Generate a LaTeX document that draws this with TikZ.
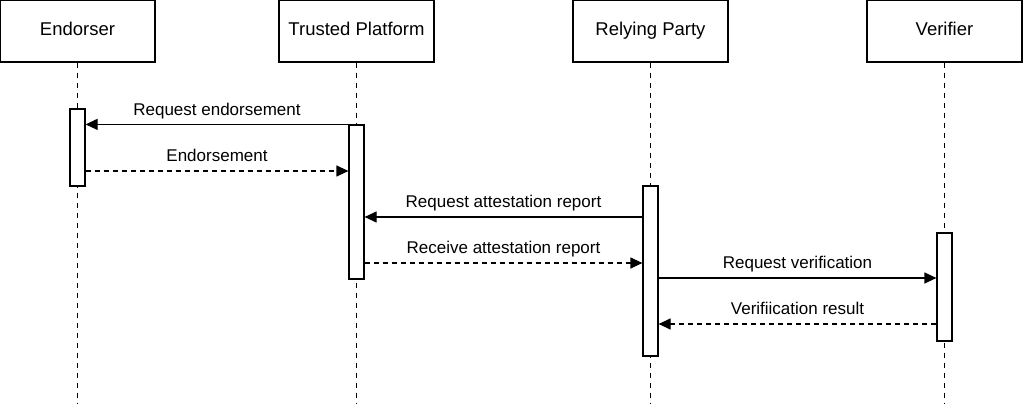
\documentclass[tikz,border=0pt]{standalone}
\usepackage{fontspec}
\setmainfont{Liberation Sans}
\usetikzlibrary{arrows.meta}
\begin{document}
\begin{tikzpicture}[x=1pt,y=-1pt,
  actor/.style={draw,line width=1.2pt,minimum width=155pt,minimum height=62pt,inner sep=0pt,text height=13.5pt,text depth=3.5pt,font=\fontsize{18.5}{20}\selectfont},
  act/.style={draw,line width=1.2pt,fill=white,minimum width=15pt,inner sep=0pt},
  life/.style={line width=1.2pt,dash pattern=on 5pt off 5pt},
  msg/.style={line width=1.2pt,-{Triangle[length=12pt,width=11pt]}},
  ret/.style={msg,dash pattern=on 5pt off 4pt},
  lbl/.style={fill=white,inner sep=1pt,text height=12.5pt,text depth=3.5pt,font=\fontsize{17}{19}\selectfont}]
\useasboundingbox (0,0) rectangle (1023,404);
% actors
\node[actor] (e) at (77.5,31) {Endorser};
\node[actor] (t) at (356.5,31) {Trusted Platform};
\node[actor] (r) at (650.5,31) {Relying Party};
\node[actor] (v) at (944.5,31) {Verifier};
% lifeline ends
\coordinate (ee) at (77.5,404);
\coordinate (te) at (356.5,404);
\coordinate (re) at (650.5,404);
\coordinate (ve) at (944.5,404);
\draw[life] (e.south) -- (ee);
\draw[life] (t.south) -- (te);
\draw[life] (r.south) -- (re);
\draw[life] (v.south) -- (ve);
% activations
\node[act,minimum height=77pt] (ea) at (77.5,147.5) {};
\node[act,minimum height=154pt] (ta) at (356.5,202) {};
\node[act,minimum height=170pt] (ra) at (650.5,271) {};
\node[act,minimum height=108pt] (va) at (944.5,287) {};
% messages
\draw[msg] (ta.north west) -- node[lbl,above=4pt] {Request endorsement} (ea.east |- ta.north);
\draw[ret] (ea.east |- 0,171) -- node[lbl,above=4pt] {Endorsement} (ta.west |- 0,171);
\draw[msg] (ra.west |- 0,217) -- node[lbl,above=4pt] {Request attestation report} (ta.east |- 0,217);
\draw[ret] (ta.east |- 0,263) -- node[lbl,above=4pt] {Receive attestation report} (ra.west |- 0,263);
\draw[msg] (ra.east |- 0,278) -- node[lbl,above=4pt] {Request verification} (va.west |- 0,278);
\draw[ret] (va.west |- 0,324) -- node[lbl,above=4pt] {Verifiication result} (ra.east |- 0,324);
\end{tikzpicture}
\end{document}
